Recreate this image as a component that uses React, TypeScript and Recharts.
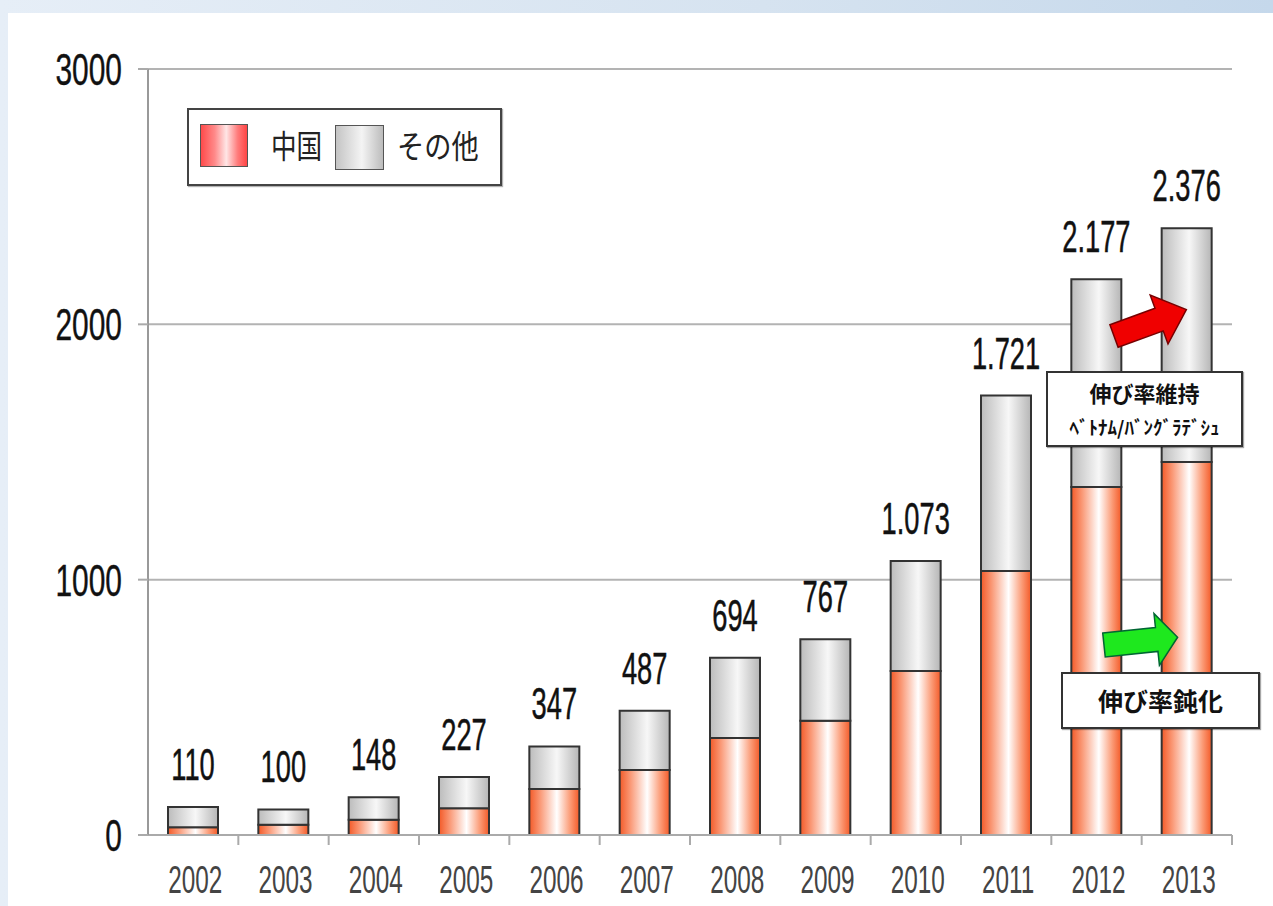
import React from 'react';
import { BarChart, Bar, XAxis, YAxis, CartesianGrid, Legend, LabelList } from 'recharts';

const years = ['2002', '2003', '2004', '2005', '2006', '2007', '2008', '2009', '2010', '2011', '2012', '2013'];
const chinaValues = [30, 40, 60, 105, 180, 255, 380, 447, 642, 1034, 1363, 1461];
const otherValues = [80, 60, 88, 122, 167, 232, 314, 320, 431, 687, 814, 915];
const totalLabels = ['110', '100', '148', '227', '347', '487', '694', '767', '1.073', '1.721', '2.177', '2.376'];
const yTicks = [0, 1000, 2000, 3000];
const seriesNames = ['中国', 'その他'];
const noteUpper = ['伸び率維持', 'ﾍﾞﾄﾅﾑ/ﾊﾞﾝｸﾞﾗﾃﾞｼｭ'];
const noteLower = '伸び率鈍化';

const data = years.map((year, i) => ({
  year,
  china: chinaValues[i],
  other: otherValues[i],
  label: totalLabels[i],
}));

const LATIN = '"Liberation Sans", Arial, sans-serif';
const CJK = '"Noto Sans CJK JP", sans-serif';

const YTick = (props: any) => {
  const { x, y, payload } = props;
  return (
    <text
      transform={`translate(${x},${y}) scale(0.68,1)`}
      textAnchor="end"
      dy="0.36em"
      fontFamily={LATIN}
      fontSize={44}
      fill="#111"
      stroke="#111"
      strokeWidth={0.4}
    >
      {payload.value}
    </text>
  );
};

const XTick = (props: any) => {
  const { x, y, payload } = props;
  const half = payload && payload.offset ? payload.offset : 45.17;
  return (
    <g>
      <line x1={x + half} x2={x + half} y1={y} y2={y + 10} stroke="#aaa" strokeWidth={2} />
      <text
        transform={`translate(${x + 2},${y + 44}) scale(0.64,1)`}
        textAnchor="middle"
        dy="0.36em"
        fontFamily={LATIN}
        fontSize={38}
        fill="#444"
      >
        {payload.value}
      </text>
    </g>
  );
};

const ValueLabel = (props: any) => {
  const { x, y, width, value } = props;
  return (
    <text
      transform={`translate(${x + width / 2},${y - 27}) scale(0.62,1)`}
      textAnchor="middle"
      fontFamily={LATIN}
      fontSize={44}
      fill="#111"
      stroke="#111"
      strokeWidth={0.5}
    >
      {value}
    </text>
  );
};

const LegendBox = () => (
  <div
    style={{
      width: 311,
      height: 74,
      border: '2px solid #444',
      background: '#fff',
      boxShadow: '1px 1px 1px rgba(0,0,0,0.3)',
      position: 'relative',
      fontFamily: CJK,
    }}
  >
    <div
      style={{
        position: 'absolute', left: 11, top: 14, width: 46, height: 41,
        border: '1.5px solid #555',
        background: 'linear-gradient(to right, #ff4a4a 0%, #ff8a8a 30%, #ffe6e6 55%, #ff7a7a 80%, #ff4545 100%)',
      }}
    />
    <div
      style={{
        position: 'absolute', left: 82, top: 16, fontSize: 32, lineHeight: '36px', color: '#222',
        transform: 'scaleX(0.8)', transformOrigin: 'left center', whiteSpace: 'nowrap',
      }}
    >
      {seriesNames[0]}
    </div>
    <div
      style={{
        position: 'absolute', left: 146, top: 15, width: 47, height: 43,
        border: '1.5px solid #555',
        background: 'linear-gradient(to right, #c4c4c4 0%, #f4f4f4 55%, #bcbcbc 100%)',
      }}
    />
    <div
      style={{
        position: 'absolute', left: 208, top: 16, fontSize: 32, lineHeight: '36px', color: '#222',
        transform: 'scaleX(0.85)', transformOrigin: 'left center', whiteSpace: 'nowrap',
      }}
    >
      {seriesNames[1]}
    </div>
  </div>
);

export default function App() {
  return (
    <div
      style={{
        position: 'absolute', left: 0, top: 0, width: 1273, height: 906, overflow: 'hidden',
        background: 'linear-gradient(to right, #e6eef7 0%, #d6e3f0 60%, #c5d8eb 100%)',
      }}
    >
      <div style={{ position: 'absolute', left: 8, top: 13, width: 1265, height: 893, background: '#fff' }} />
      <div style={{ position: 'absolute', left: 0, top: 0 }}>
        <BarChart
          width={1273}
          height={906}
          data={data}
          margin={{ top: 69, right: 41, bottom: 11, left: 48 }}
          barSize={50}
        >
          <defs>
            <linearGradient id="gChina" x1="0" y1="0" x2="1" y2="0">
              <stop offset="0%" stopColor="#f35a28" />
              <stop offset="22%" stopColor="#fa9a78" />
              <stop offset="55%" stopColor="#ffffff" />
              <stop offset="82%" stopColor="#fb9a75" />
              <stop offset="100%" stopColor="#f35a28" />
            </linearGradient>
            <linearGradient id="gOther" x1="0" y1="0" x2="1" y2="0">
              <stop offset="0%" stopColor="#bcbcbc" />
              <stop offset="55%" stopColor="#f7f7f7" />
              <stop offset="100%" stopColor="#b6b6b6" />
            </linearGradient>
          </defs>
          <CartesianGrid vertical={false} stroke="#b3b3b3" strokeWidth={2} />
          <XAxis
            dataKey="year"
            axisLine={{ stroke: '#aaa', strokeWidth: 2 }}
            tickLine={false}
            tickSize={0}
            tickMargin={0}
            height={60}
            tick={<XTick />}
            interval={0}
          />
          <YAxis
            domain={[0, 3000]}
            ticks={yTicks}
            width={100}
            axisLine={{ stroke: '#999', strokeWidth: 2 }}
            tickLine={{ stroke: '#aaa', strokeWidth: 2 }}
            tickSize={10}
            tickMargin={16}
            tick={<YTick />}
          />
          <Legend
            layout="horizontal"
            verticalAlign="middle"
            align="center"
            content={<LegendBox />}
            wrapperStyle={{ left: 187, top: 108, width: 315, height: 78 }}
          />
          <Bar dataKey="china" stackId="a" name={seriesNames[0]} fill="url(#gChina)" stroke="#333" strokeWidth={2} isAnimationActive={false} />
          <Bar dataKey="other" stackId="a" name={seriesNames[1]} fill="url(#gOther)" stroke="#333" strokeWidth={2} isAnimationActive={false}>
            <LabelList dataKey="label" content={<ValueLabel />} />
          </Bar>
        </BarChart>
      </div>
      <svg width={1273} height={906} style={{ position: 'absolute', left: 0, top: 0, pointerEvents: 'none' }}>
        <polygon
          points="0,-12 48,-12 48,-26 77,0 48,26 48,12 0,12"
          transform="translate(1114,336) rotate(-20)"
          fill="#f00000"
          stroke="#700"
          strokeWidth={1.5}
        />
        <polygon
          points="0,-12 53,-12 53,-26 74,0 53,26 53,12 0,12"
          transform="translate(1104,645) rotate(-6)"
          fill="#1ee81e"
          stroke="#063"
          strokeWidth={1.5}
        />
      </svg>
      <div
        style={{
          position: 'absolute', left: 1046, top: 371, width: 193, height: 72,
          border: '2px solid #333', background: '#fff', boxShadow: '1px 1px 1px rgba(0,0,0,0.35)',
          fontFamily: CJK, color: '#111', textAlign: 'center',
        }}
      >
        <div style={{ position: 'absolute', left: 0, right: 0, top: 6, fontSize: 22, lineHeight: '26px', fontWeight: 700 }}>
          {noteUpper[0]}
        </div>
        <div style={{ position: 'absolute', left: 0, right: 0, top: 42, fontSize: 19, lineHeight: '24px', fontWeight: 700 }}>
          {noteUpper[1]}
        </div>
      </div>
      <div
        style={{
          position: 'absolute', left: 1061, top: 672, width: 195, height: 53,
          border: '2px solid #333', background: '#fff', boxShadow: '1px 1px 1px rgba(0,0,0,0.35)',
          fontFamily: CJK, color: '#111', textAlign: 'center',
        }}
      >
        <div style={{ position: 'absolute', left: 0, right: 0, top: 11, fontSize: 25, lineHeight: '30px', fontWeight: 700 }}>
          {noteLower}
        </div>
      </div>
    </div>
  );
}
